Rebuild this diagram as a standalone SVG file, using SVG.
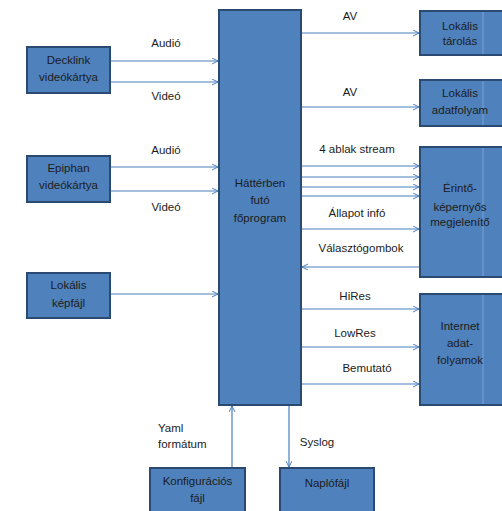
<svg xmlns="http://www.w3.org/2000/svg" width="502" height="511" viewBox="0 0 502 511">
<defs>
<style>
.box{fill:#4f81bd;stroke:#2b4a72;stroke-width:2}
.t{font-family:"Liberation Sans",Arial,sans-serif;font-size:11.5px;fill:#1c1c1c;text-anchor:middle}
.l{font-family:"Liberation Sans",Arial,sans-serif;font-size:11.5px;fill:#1c1c1c;text-anchor:middle}
.c{stroke:#4a7ebb;stroke-width:1.2;fill:none;marker-end:url(#ah)}
.seam{stroke:#8fb0d8;stroke-width:1;opacity:0.7}
</style>
<marker id="ah" markerWidth="8" markerHeight="8" refX="6" refY="3" orient="auto" markerUnits="userSpaceOnUse">
<path d="M0,0 L6,3 L0,6" fill="none" stroke="#4a7ebb" stroke-width="1"/>
</marker>
</defs>
<rect width="502" height="511" fill="#ffffff"/>
<g id="connectors">
<line class="c" x1="110" y1="61" x2="218" y2="61"/>
<line class="c" x1="110" y1="82" x2="218" y2="82"/>
<line class="c" x1="110" y1="167" x2="218" y2="167"/>
<line class="c" x1="110" y1="191" x2="218" y2="191"/>
<line class="c" x1="110" y1="294" x2="218" y2="294"/>
<line class="c" x1="301" y1="33" x2="419" y2="33"/>
<line class="c" x1="301" y1="107" x2="419" y2="107"/>
<line class="c" x1="301" y1="166" x2="419" y2="166"/>
<line class="c" x1="301" y1="177" x2="419" y2="177"/>
<line class="c" x1="301" y1="187" x2="419" y2="187"/>
<line class="c" x1="301" y1="196" x2="419" y2="196"/>
<line class="c" x1="301" y1="229" x2="419" y2="229"/>
<line class="c" x1="420" y1="267" x2="302" y2="267"/>
<line class="c" x1="301" y1="309" x2="419" y2="309"/>
<line class="c" x1="301" y1="347" x2="419" y2="347"/>
<line class="c" x1="301" y1="384" x2="419" y2="384"/>
<line class="c" x1="232" y1="468" x2="232" y2="406"/>
<line class="c" x1="289" y1="405" x2="289" y2="467"/>
<text class="l" x="166" y="47">Audió</text>
<text class="l" x="166" y="100">Videó</text>
<text class="l" x="166" y="154">Audió</text>
<text class="l" x="166" y="211">Videó</text>
<text class="l" x="350" y="20">AV</text>
<text class="l" x="350" y="96">AV</text>
<text class="l" x="357" y="153">4 ablak stream</text>
<text class="l" x="357" y="217">Állapot infó</text>
<text class="l" x="361" y="252">Választógombok</text>
<text class="l" x="355" y="300">HiRes</text>
<text class="l" x="355" y="337">LowRes</text>
<text class="l" x="367" y="372">Bemutató</text>
<text class="l" x="158" y="432" style="text-anchor:start">Yaml</text>
<text class="l" x="158" y="448" style="text-anchor:start">formátum</text>
<text class="l" x="317" y="446">Syslog</text>
</g>
<g id="main">
<rect class="box" x="219" y="10" width="82" height="395"/>
<text class="t" x="260" y="187">Háttérben</text>
<text class="t" x="260" y="204">futó</text>
<text class="t" x="260" y="222">főprogram</text>
</g>
<g id="decklink">
<rect class="box" x="27" y="47" width="83" height="46"/>
<text class="t" x="68.5" y="64">Decklink</text>
<text class="t" x="68.5" y="81">videókártya</text>
</g>
<g id="epiphan">
<rect class="box" x="27" y="156" width="83" height="46"/>
<text class="t" x="68.5" y="172">Epiphan</text>
<text class="t" x="68.5" y="189">videókártya</text>
</g>
<g id="kepfajl">
<rect class="box" x="27" y="273" width="83" height="45"/>
<text class="t" x="68.5" y="289">Lokális</text>
<text class="t" x="68.5" y="307">képfájl</text>
</g>
<g id="tarolas">
<rect class="box" x="420" y="11" width="86" height="44"/>
<line class="seam" x1="483" y1="12" x2="483" y2="54"/>
<text class="t" x="460" y="30">Lokális</text>
<text class="t" x="460" y="45">tárolás</text>
</g>
<g id="adatfolyam">
<rect class="box" x="420" y="80" width="86" height="46"/>
<line class="seam" x1="483" y1="81" x2="483" y2="125"/>
<text class="t" x="460" y="97">Lokális</text>
<text class="t" x="460" y="114">adatfolyam</text>
</g>
<g id="erinto">
<rect class="box" x="420" y="147" width="86" height="130"/>
<line class="seam" x1="483" y1="148" x2="483" y2="276"/>
<text class="t" x="460" y="192">Érintő-</text>
<text class="t" x="460" y="211">képernyős</text>
<text class="t" x="460" y="226">megjelenítő</text>
</g>
<g id="internet">
<rect class="box" x="420" y="294" width="86" height="111"/>
<line class="seam" x1="483" y1="295" x2="483" y2="404"/>
<text class="t" x="460" y="330">Internet</text>
<text class="t" x="460" y="347">adat-</text>
<text class="t" x="460" y="364">folyamok</text>
</g>
<g id="konfig">
<rect class="box" x="150" y="468" width="95" height="50"/>
<text class="t" x="197.5" y="485">Konfigurációs</text>
<text class="t" x="197.5" y="502">fájl</text>
</g>
<g id="naplo">
<rect class="box" x="280" y="468" width="94" height="50"/>
<text class="t" x="327" y="487">Naplófájl</text>
</g>
</svg>
